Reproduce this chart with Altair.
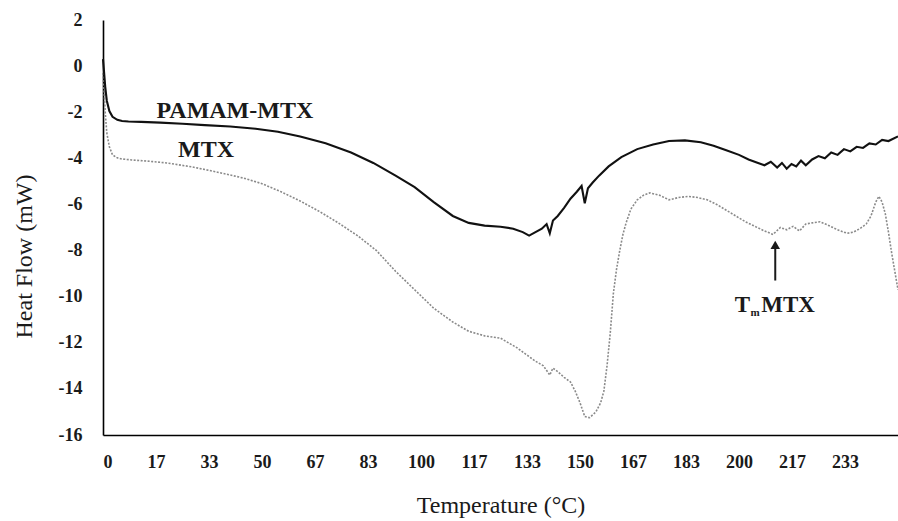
import altair as alt
import pandas as pd

# DSC thermograms: heat flow (mW) against temperature (°C)
pamam_temp = [0, 0.3, 0.7, 1.2, 2, 3, 4.5, 6, 8, 12, 18, 25, 32, 40, 48, 55, 62, 70, 78, 85,
              92, 98, 104, 110, 115, 120, 125, 129, 132, 134, 136, 138, 139.5, 140.5, 141.5, 143,
              145, 147, 149, 150.5, 151.5, 152.5, 154, 156, 159, 163, 168, 173, 178, 183, 188,
              192, 196, 200, 203, 206, 208, 210, 212, 213.5, 215, 216.5, 218, 219.5, 221, 223,
              225, 227, 229, 231, 233, 235, 237, 239, 241, 243, 245, 247, 250]
pamam_flow = [0.3, -0.2, -0.9, -1.5, -1.95, -2.2, -2.33, -2.38, -2.4, -2.42, -2.45, -2.5, -2.56,
              -2.62, -2.72, -2.85, -3.05, -3.35, -3.75, -4.2, -4.75, -5.25, -5.9, -6.5, -6.8,
              -6.92, -6.97, -7.05, -7.2, -7.35, -7.2, -7.05, -6.85, -7.25, -6.7, -6.5, -6.15,
              -5.75, -5.45, -5.2, -5.95, -5.3, -5.05, -4.75, -4.35, -3.95, -3.6, -3.4, -3.25,
              -3.22, -3.3, -3.45, -3.65, -3.85, -4.05, -4.2, -4.3, -4.15, -4.4, -4.2, -4.45,
              -4.25, -4.35, -4.1, -4.3, -4.05, -3.9, -4.0, -3.75, -3.85, -3.6, -3.7, -3.5,
              -3.55, -3.35, -3.4, -3.2, -3.25, -3.05]

mtx_temp = [0, 0.3, 0.7, 1.2, 2, 3, 4.5, 6, 9, 14, 20, 28, 36, 44, 50, 56, 62, 68, 74, 80, 86,
            92, 98, 104, 110, 115, 120, 125, 130, 133, 136, 138.5, 140.5, 141.5, 143, 145, 147,
            148.5, 150, 151.5, 153, 155, 156.5, 157.5, 158.5, 159.5, 160.5, 161.5, 162.5, 163.5,
            164.5, 166, 168, 170, 172, 175, 178, 181, 184, 187, 190, 193, 196, 199, 202, 205,
            208, 210.7, 213, 215, 217, 219, 221, 223, 225.5, 228, 231, 234, 236, 238, 240,
            241.5, 243, 244, 245, 246, 247, 248, 249, 250]
mtx_flow = [-0.3, -1.0, -2.0, -2.9, -3.5, -3.85, -3.98, -4.03, -4.07, -4.12, -4.2, -4.37, -4.6,
            -4.85, -5.1, -5.45, -5.85, -6.3, -6.8, -7.35, -8.0, -8.9, -9.7, -10.5, -11.1, -11.5,
            -11.7, -11.8, -12.2, -12.5, -12.8, -13.0, -13.4, -13.1, -13.25, -13.5, -13.7, -14.1,
            -14.6, -15.2, -15.25, -15.0, -14.6, -14.1, -13.0, -11.6, -9.85, -8.8, -8.0, -7.3,
            -6.8, -6.2, -5.8, -5.6, -5.5, -5.6, -5.8, -5.7, -5.65, -5.7, -5.8, -6.0, -6.25,
            -6.5, -6.75, -6.95, -7.15, -7.3, -7.0, -7.1, -6.95, -7.15, -6.85, -6.8, -6.75,
            -6.9, -7.1, -7.25, -7.2, -7.05, -6.85, -6.5, -5.9, -5.65, -5.9, -6.4, -7.2, -8.1,
            -8.9, -9.7]

x_ticks = [0, 16.667, 33.333, 50, 66.667, 83.333, 100, 116.667, 133.333, 150, 166.667,
           183.333, 200, 216.667, 233.333]
y_ticks = [-16, -14, -12, -10, -8, -6, -4, -2, 0, 2]

SERIF = "Liberation Serif"
INK = "#1a1a1a"

pamam_df = pd.DataFrame({"temp": pamam_temp, "flow": pamam_flow})
mtx_df = pd.DataFrame({"temp": mtx_temp, "flow": mtx_flow})

x_enc = alt.X("temp:Q",
              scale=alt.Scale(domain=[0, 250], nice=False, zero=False),
              axis=alt.Axis(values=x_ticks, format=".0f", title="Temperature (°C)",
                            grid=False, ticks=False, domainColor="#000", domainWidth=1.6,
                            labelFont=SERIF, labelFontSize=18, labelFontWeight="bold",
                            labelColor=INK, labelPadding=18,
                            titleFont=SERIF, titleFontSize=24, titleFontWeight="normal",
                            titleColor=INK, titlePadding=22))
y_enc = alt.Y("flow:Q",
              scale=alt.Scale(domain=[-16, 2], nice=False, zero=False),
              axis=alt.Axis(values=y_ticks, title="Heat Flow (mW)",
                            labelExpr="datum.value < 0 ? '-' + abs(datum.value) : '' + datum.value",
                            grid=False, ticks=False, domainColor="#000", domainWidth=1.6,
                            labelFont=SERIF, labelFontSize=18, labelFontWeight="bold",
                            labelColor=INK, labelPadding=21,
                            titleFont=SERIF, titleFontSize=24, titleFontWeight="normal",
                            titleColor=INK, titlePadding=22, titleY=236))

mtx_line = alt.Chart(mtx_df).mark_line(
    color="#8a8a8a", strokeWidth=1.6, strokeDash=[2, 1.5]
).encode(x=x_enc, y=y_enc)

pamam_line = alt.Chart(pamam_df).mark_line(
    color="#111", strokeWidth=2.1
).encode(x="temp:Q", y="flow:Q")

# Curve labels
labels_df = pd.DataFrame({"temp": [16.8, 23.6], "flow": [-1.95, -3.65],
                          "text": ["PAMAM-MTX", "MTX"]})
curve_labels = alt.Chart(labels_df).mark_text(
    align="left", baseline="middle", font=SERIF, fontSize=24, fontWeight="bold", color=INK
).encode(x="temp:Q", y="flow:Q", text="text:N")

# Melting-point arrow for MTX
arrow_df = pd.DataFrame({"temp": [211.4], "flow": [-9.3], "flow2": [-7.7]})
arrow_shaft = alt.Chart(arrow_df).mark_rule(color=INK, strokeWidth=2).encode(
    x="temp:Q", y="flow:Q", y2="flow2:Q")
arrow_head = alt.Chart(pd.DataFrame({"temp": [211.4], "flow": [-7.75]})).mark_point(
    shape="triangle-up", filled=True, color=INK, size=90, opacity=1
).encode(x="temp:Q", y="flow:Q")

tm_df = pd.DataFrame({"temp": [198.7, 203.6, 207.0], "flow": [-10.36, -10.72, -10.36],
                      "text": ["T", "m", "MTX"], "size": [23, 11, 23]})
tm_label = alt.Chart(tm_df).mark_text(
    align="left", baseline="middle", font=SERIF, fontWeight="bold", color=INK
).encode(x="temp:Q", y="flow:Q", text="text:N",
         size=alt.Size("size:Q", scale=None, legend=None))

chart = alt.layer(mtx_line, pamam_line, curve_labels, arrow_shaft, arrow_head, tm_label).properties(
    width=795, height=415,
    padding={"left": 103, "top": 20, "right": 0, "bottom": 86},
    autosize=alt.AutoSizeParams(type="none"),
    background="white"
).configure_view(stroke=None)

chart.save("out.html", embed_options={"renderer": "svg", "actions": False})
